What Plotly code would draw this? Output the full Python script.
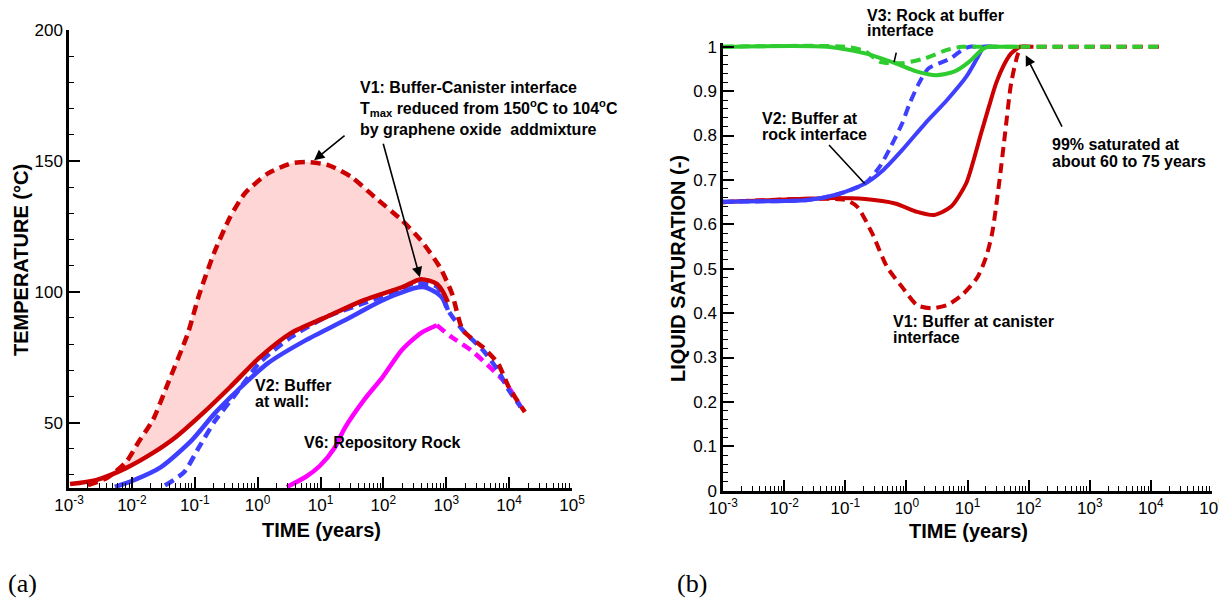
import math
import plotly.graph_objects as go

W, H = 1227, 600
OFF = 8  # default page margin around the plot div
FW, FH = W - OFF, H - OFF

# ---------------- Panel (a): temperature vs time ----------------
# V1 buffer-canister interface, without graphene oxide (dashed)
t_v1_base = [0.0020, 0.0040, 0.0081, 0.0125, 0.0216, 0.0375, 0.078, 0.117, 0.202, 0.363,
             0.628, 1.46, 3.38, 5.86, 13.6, 31.6, 73.3, 197, 394, 791, 1230, 1840, 3820,
             6610, 9890, 17800]
T_v1_base = [26.1, 28.8, 34.9, 42.2, 51.0, 65.0, 84.2, 98.7, 114.7, 128.4,
             137.6, 145.2, 149.0, 149.6, 148.3, 143.7, 136.1, 127.3, 119.7, 109.4, 99.4, 85.3, 78.8,
             72.7, 63.5, 54.0]
# V1 with graphene oxide (solid)
t_v1_go = [0.00104, 0.00269, 0.00805, 0.0216, 0.0502, 0.135, 0.363, 1.09, 3.38, 12.2,
           49, 197, 394, 708, 916, 1060]
T_v1_go = [26.5, 28.0, 32.6, 38.4, 44.5, 53.6, 63.5, 75.0, 84.2, 90.3,
           96.8, 101.7, 104.8, 103.0, 99.4, 96.0]
# V2 buffer at wall, with GO (solid)
t_v2_go = [0.00538, 0.0108, 0.029, 0.0902, 0.209, 0.486, 1.46, 5.86, 24.4, 98, 305, 457, 708, 916, 1060]
T_v2_go = [25.4, 28.0, 33.0, 43.3, 53.6, 62.4, 72.7, 81.5, 89.1, 96.8, 101.3, 101.7, 99.5, 96.8, 93.0]
# V2 without GO (dashed)
t_v2_base = [0.0336, 0.0673, 0.117, 0.209, 0.486, 1.09, 3.38, 12.2, 49, 197, 305, 708, 1060,
             1840, 3820, 6610, 9890, 15300]
T_v2_base = [26.0, 31.0, 40.6, 50.6, 62.0, 73.0, 82.6, 90.3, 95.6, 101.3, 103.2, 102.0, 93.0,
             85.3, 77.7, 70.0, 62.4, 56.0]
# V6 repository rock
t_v6_go = [2.92, 5.86, 9.8, 16.9, 24.4, 49, 98, 197, 394, 708]
T_v6_go = [25.4, 29.3, 33.5, 40.5, 48.0, 58.6, 67.5, 77.7, 84.2, 87.2]
t_v6_base = [708, 1230, 2460, 4930, 8870, 15300]
T_v6_base = [87.2, 82.6, 77.7, 71.2, 65.0, 56.0]

# ---------------- Panel (b): liquid saturation vs time ----------------
t_s3_go = [0.001, 0.0504, 0.211, 0.653, 1.5, 3.06, 6.04, 10.6, 16.7, 21.7, 30, 70]
S_s3_go = [1.0, 1.0, 0.985, 0.963, 0.944, 0.936, 0.944, 0.966, 0.992, 1.0, 1.0, 1.0]
t_s3_base = [0.001, 0.1, 0.211, 0.372, 0.851, 2.02, 4.63, 8.17, 12, 100, 16600]
S_s3_base = [1.0, 1.0, 0.99, 0.966, 0.963, 0.974, 0.993, 1.0, 1.0, 1.0, 1.0]
t_s2_go = [0.001, 0.0246, 0.068, 0.211, 0.416, 0.851, 2.02, 4.63, 9.49, 14.4, 18.7, 24, 30]
S_s2_go = [0.651, 0.655, 0.666, 0.692, 0.722, 0.767, 0.827, 0.88, 0.932, 0.974, 1.0, 1.0, 1.0]
t_s2_base = [0.001, 0.0246, 0.068, 0.211, 0.366, 0.557, 0.851, 1.13, 1.61, 2.29, 3.49, 5.33, 8.17,
             10.8, 14, 30]
S_s2_base = [0.651, 0.655, 0.666, 0.692, 0.73, 0.775, 0.827, 0.872, 0.918, 0.951, 0.963, 0.974, 0.993,
             1.0, 1.0, 1.0]
t_s1_go = [0.001, 0.0504, 0.211, 0.653, 1.5, 2.84, 5.4, 9.49, 12.6, 16.7, 22.4, 29.4, 39.8, 51.8,
           72.6, 90, 120]
S_s1_go = [0.65, 0.659, 0.657, 0.647, 0.628, 0.621, 0.64, 0.692, 0.745, 0.805, 0.865, 0.918, 0.960,
           0.985, 1.0, 1.0, 1.0]
t_s1_base = [0.001, 0.1, 0.156, 0.275, 0.483, 0.851, 1.5, 2.63, 4.63, 8.17, 14.4, 20.0, 25.3, 32.9,
             41.2, 51.8, 67.3, 78.3, 100, 16600]
S_s1_base = [0.65, 0.655, 0.64, 0.58, 0.504, 0.459, 0.418, 0.411, 0.418, 0.441, 0.480, 0.525, 0.58, 0.692,
             0.805, 0.918, 0.985, 1.0, 1.0, 1.0]

x_ticks = [1e-3, 1e-2, 1e-1, 1e0, 1e1, 1e2, 1e3, 1e4, 1e5]
x_ticktext = ["10<sup>-3</sup>", "10<sup>-2</sup>", "10<sup>-1</sup>", "10<sup>0</sup>", "10<sup>1</sup>",
              "10<sup>2</sup>", "10<sup>3</sup>", "10<sup>4</sup>", "10<sup>5</sup>"]
T_ticks = [50, 100, 150, 200]
S_ticks = [0, 0.1, 0.2, 0.3, 0.4, 0.5, 0.6, 0.7, 0.8, 0.9, 1.0]
S_ticktext = ["0", "0.1", "0.2", "0.3", "0.4", "0.5", "0.6", "0.7", "0.8", "0.9", "1"]

RED = "#CC0000"
BLUE = "#3F3FFF"
GREEN = "#2FCC2F"
MAG = "#FF00FF"
PINK = "#FFD6D6"
DASH = "10px,6px"
FONT = "Liberation Sans, Arial, sans-serif"


def px(x):
    return (x - OFF) / FW


def py(y):
    return 1 - (y - OFF) / FH


fig = go.Figure()

# shaded difference between V1 without and with GO
fx = [t for t in t_v1_base if 0.004 <= t <= 1300]
fy = [T for t, T in zip(t_v1_base, T_v1_base) if 0.004 <= t <= 1300]
sx = [t for t in t_v1_go if 0.004 <= t <= 1100][::-1]
sy = [T for t, T in zip(t_v1_go, T_v1_go) if 0.004 <= t <= 1100][::-1]
fig.add_trace(go.Scatter(x=fx + sx, y=fy + sy, fill="toself", fillcolor=PINK,
                         line=dict(width=0, shape="spline", smoothing=0.6), mode="lines",
                         xaxis="x", yaxis="y", hoverinfo="skip"))


def line(x, y, color, dash, width, ax="x", ay="y", sm=0.7):
    fig.add_trace(go.Scatter(x=x, y=y, mode="lines", xaxis=ax, yaxis=ay,
                             line=dict(color=color, width=width, dash=dash, shape="spline", smoothing=sm)))


line(t_v6_go, T_v6_go, MAG, "solid", 4.5)
line(t_v6_base, T_v6_base, MAG, DASH, 4.5)
line(t_v2_base, T_v2_base, BLUE, DASH, 4.5)
line(t_v2_go, T_v2_go, BLUE, "solid", 4.5)
line(t_v1_base, T_v1_base, RED, DASH, 4.5, sm=0.6)
line(t_v1_go, T_v1_go, RED, "solid", 4.5)

line(t_s1_base, S_s1_base, RED, DASH, 4, "x2", "y2")
line(t_s1_go, S_s1_go, RED, "solid", 4, "x2", "y2")
line(t_s2_base, S_s2_base, BLUE, DASH, 4, "x2", "y2")
line(t_s2_go, S_s2_go, BLUE, "solid", 4, "x2", "y2")
line(t_s3_base, S_s3_base, GREEN, DASH, 4, "x2", "y2")
line(t_s3_go, S_s3_go, GREEN, "solid", 4, "x2", "y2")

minor_x = [k * 10.0 ** n for n in range(-3, 5) for k in range(2, 10)]

common_x = dict(type="log", range=[-3, 5], showline=True, linewidth=2.5, linecolor="black",
                ticks="inside", ticklen=11, tickwidth=2, tickcolor="black", automargin=False,
                tickvals=x_ticks, ticktext=x_ticktext, showgrid=False, zeroline=False,
                tickfont=dict(family=FONT, size=17, color="black"),
                minor=dict(tickvals=minor_x, ticks="inside", ticklen=5, tickwidth=1, tickcolor="black"))

fig.update_layout(
    width=FW, height=FH, margin=dict(l=0, r=0, t=0, b=0, autoexpand=False),
    paper_bgcolor="white", plot_bgcolor="white", showlegend=False,
    xaxis=dict(domain=[px(69), px(572)], anchor="y", **common_x),
    yaxis=dict(domain=[py(488), py(30)], anchor="x", range=[25, 200], showline=True, linewidth=2.5,
               linecolor="black", ticks="inside", ticklen=11, tickwidth=2, tickcolor="black",
               tickvals=T_ticks, showgrid=False, zeroline=False, automargin=False,
               tickfont=dict(family=FONT, size=17, color="black"),
               minor=dict(dtick=10, ticks="inside", ticklen=5, tickwidth=1, tickcolor="black")),
    xaxis2=dict(domain=[px(723), px(1212)], anchor="y2", **common_x),
    yaxis2=dict(domain=[py(490.7), py(43.2)], anchor="x2", range=[0, 1.008], showline=True, linewidth=2.5,
                linecolor="black", ticks="inside", ticklen=11, tickwidth=2, tickcolor="black",
                tickvals=S_ticks, ticktext=S_ticktext, showgrid=False, zeroline=False, automargin=False,
                tickfont=dict(family=FONT, size=17, color="black"),
                minor=dict(dtick=0.02, ticks="inside", ticklen=5, tickwidth=1, tickcolor="black")),
)

ann = []


def text(x, y, s, size=16, family=FONT, xanchor="left", yanchor="top", angle=0):
    ann.append(dict(x=px(x), y=py(y), xref="paper", yref="paper", text=s, showarrow=False,
                    xanchor=xanchor, yanchor=yanchor, align="left", textangle=angle,
                    font=dict(family=family, size=size, color="black")))


def lines(x, ys, strs):
    for y, s in zip(ys, strs):
        text(x, y, "<b>" + s + "</b>", yanchor="middle")


def arrow(xd, yd, ax, ay, xr, yr, head=2):
    ann.append(dict(x=xd, y=yd, xref=xr, yref=yr, ax=ax, ay=ay, text="", showarrow=True,
                    arrowhead=head, arrowsize=1.3, arrowwidth=1.6, arrowcolor="black"))


# panel (a) labels
text(358, 77, "<b>V1: Buffer-Canister interface<br>T<sub>max</sub> reduced from 150<sup>o</sup>C to 104<sup>o</sup>C"
              "<br>by graphene oxide  addmixture</b>")
lines(253, [385, 401.7], ["V2: Buffer", "at wall:"])
lines(302, [442], ["V6: Repository Rock"])
arrow(math.log10(7.9), 150.2, 32, -26, "x", "y")
arrow(math.log10(380), 105.5, -37, -135, "x", "y")
text(21, 260, "<b>TEMPERATURE (°C)</b>", size=20, xanchor="center", yanchor="middle", angle=-90)
text(321, 530, "<b>TIME (years)</b>", size=20, xanchor="center", yanchor="middle")
text(22, 583, "(a)", size=26, family="Liberation Serif, Times New Roman, serif", xanchor="center", yanchor="middle")

# panel (b) labels
lines(865, [15, 30.7], ["V3: Rock at buffer", "interface"])
lines(760, [118.3, 135], ["V2: Buffer at", "rock interface"])
lines(1050, [145, 161.7], ["99% saturated at", "about 60 to 75 years"])
lines(891, [321.7, 337.3], ["V1: Buffer at canister", "interface"])
arrow(-0.201, 0.9655, 2.5, -11, "x2", "y2", head=0)
arrow(-0.683, 0.692, -37, -40, "x2", "y2", head=0)
arrow(1.953, 0.981, 37, 73, "x2", "y2")
text(678, 269, "<b>LIQUID SATURATION (-)</b>", size=20, xanchor="center", yanchor="middle", angle=-90)
text(968, 531, "<b>TIME (years)</b>", size=20, xanchor="center", yanchor="middle")
text(692, 583, "(b)", size=26, family="Liberation Serif, Times New Roman, serif", xanchor="center", yanchor="middle")

fig.update_layout(annotations=ann)
fig.write_html("out.html")
